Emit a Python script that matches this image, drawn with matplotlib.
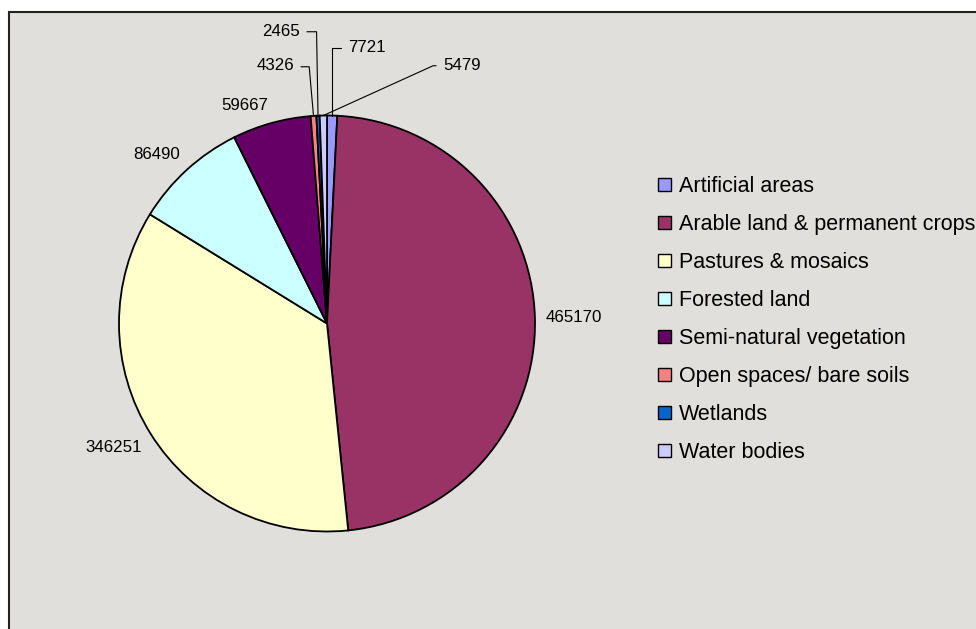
import matplotlib
matplotlib.use("Agg")
import matplotlib.pyplot as plt
import numpy as np
from matplotlib.patches import Patch, Rectangle

# land cover areas, in pie order (clockwise from 12 o'clock)
categories = ["Artificial areas", "Arable land & permanent crops", "Pastures & mosaics",
              "Forested land", "Semi-natural vegetation", "Open spaces/ bare soils",
              "Wetlands", "Water bodies"]
areas = [7721, 465170, 346251, 86490, 59667, 4326, 2465, 5479]
colors = ["#9999ff", "#993366", "#ffffcc", "#ccffff", "#660066", "#ff8080", "#0066cc", "#ccccff"]

W, H = 976, 629
plt.rcParams['font.family'] = ['Liberation Sans', 'DejaVu Sans']


def px(x, y):
    # picture pixel (origin top left) -> figure pixels
    return x, H - y


fig = plt.figure(figsize=(W / 100, H / 100), dpi=100)
fig.patch.set_facecolor('white')
fig.patches.append(Rectangle((9 / W, -0.1), 1.2, (H - 12) / H + 0.1, transform=fig.transFigure,
                             facecolor='#e0dfdb', edgecolor='#222222', lw=1.5, zorder=-5))

cx, cy, R = 327, 323.5, 208
ax = fig.add_axes([(cx - R) / W, (H - cy - R) / H, 2 * R / W, 2 * R / H])
ax.set_zorder(2)
wedges, _ = ax.pie(areas, colors=colors, startangle=90, counterclock=False, radius=1,
                   wedgeprops=dict(edgecolor='black', linewidth=1.3))
for w in wedges:
    w.set_clip_on(False)
ax.set_xlim(-1, 1)
ax.set_ylim(-1, 1)
ax.axis('off')

# small slices get leader lines: text position (picture px), alignment, angle into the pie
leaders = {0: (348, 47, 'left', 90), 7: (443, 65, 'left', 24.4),
           6: (300, 31, 'right', 91), 5: (294, 66, 'right', 95)}

for i, (w, v) in enumerate(zip(wedges, areas)):
    mid = np.deg2rad((w.theta1 + w.theta2) / 2)
    ux, uy = np.cos(mid), np.sin(mid)
    if i in leaders:
        tx, ty, ha, angb = leaders[i]
        ax.annotate(str(v), xy=(ux, uy), xytext=px(tx, ty), textcoords='figure pixels',
                    ha=ha, va='center', fontsize=12.2, annotation_clip=False,
                    arrowprops=dict(arrowstyle='-', color='black', lw=0.8, shrinkA=3, shrinkB=0,
                                    relpos=(0 if ha == 'left' else 1, 0.45),
                                    connectionstyle=f"angle,angleA=0,angleB={angb},rad=0"))
    else:
        d = 1.05
        ha = 'left' if ux > 0 else 'right'
        va = 'center' if abs(uy) < 0.3 else ('bottom' if uy > 0 else 'top')
        ax.text(d * ux, d * uy, str(v), ha=ha, va=va, fontsize=12.2, clip_on=False)

handles = [Patch(facecolor=c, edgecolor='black', linewidth=1.0) for c in colors]
fig.legend(handles, categories, loc='upper left', bbox_to_anchor=(658 / W, (H - 176) / H),
           frameon=False, fontsize=15.5, handlelength=0.6, handleheight=0.6,
           handletextpad=0.38, labelspacing=0.79, borderpad=0, borderaxespad=0)

fig.savefig("out.png", dpi=100, facecolor=fig.get_facecolor())
